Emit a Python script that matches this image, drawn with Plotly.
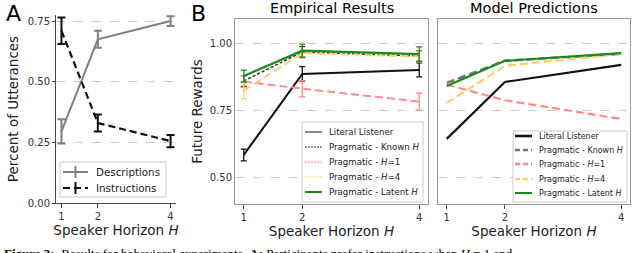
import plotly.graph_objects as go

# ---------------- data ----------------
horizons = [1, 2, 4]

# Panel A
desc_vals = [0.295, 0.675, 0.750]
desc_err = [0.05, 0.035, 0.02]
instr_vals = [0.710, 0.330, 0.255]
instr_err = [0.055, 0.035, 0.025]

# Panel B: empirical
emp_literal = [0.586, 0.888, 0.903]
emp_literal_err = [0.022, 0.027, 0.026]
emp_known = [0.862, 0.970, 0.955]
emp_known_err = [0.02, 0.02, 0.02]
emp_h1 = [0.860, 0.833, 0.785]
emp_h1_err = [0.022, 0.03, 0.032]
emp_h4 = [0.826, 0.966, 0.953]
emp_h4_err = [0.03, 0.02, 0.02]
emp_latent = [0.880, 0.975, 0.962]
emp_latent_err = [0.022, 0.024, 0.027]

# Panel C: model
mod_literal = [0.646, 0.858, 0.922]
mod_known = [0.855, 0.937, 0.963]
mod_h1 = [0.848, 0.790, 0.720]
mod_h4 = [0.780, 0.918, 0.963]
mod_latent = [0.843, 0.937, 0.966]

series_names = ["Literal Listener", "Pragmatic - Known <i>H</i>", "Pragmatic - <i>H</i>=1",
                "Pragmatic - <i>H</i>=4", "Pragmatic - Latent <i>H</i>"]
panel_a_names = ["Descriptions", "Instructions"]

FONT = "DejaVu Sans"
RED = "#ff8c8c"
ORANGE = "#ffcc70"
GREEN = "#1a8a1a"
W, H = 640, 253


def px(x):
    return x / W


def py(y):
    return 1 - y / H


fig = go.Figure()
shapes = []
annotations = []

# ---------- Panel A ----------
a_styles = [("#808080", None, 2), ("#111111", "7px,4px", 2.2)]
for vals, err, (col, dash, lw), nm in zip([desc_vals, instr_vals], [desc_err, instr_err], a_styles, panel_a_names):
    ln = dict(color=col, width=lw)
    if dash:
        ln["dash"] = dash
    fig.add_trace(go.Scatter(x=horizons, y=vals, mode="lines", name=nm, line=ln, showlegend=False,
                             error_y=dict(type="data", array=err, color=col, thickness=2, width=4),
                             xaxis="x", yaxis="y"))

# ---------- Panel B ----------
emp_styles = [("#111111", None, 2), ("#333333", "3px,2px", 1.5), (RED, "8px,4px", 2),
              (ORANGE, "8px,4px", 2), (GREEN, None, 2.2)]
emp_vals = [emp_literal, emp_known, emp_h1, emp_h4, emp_latent]
emp_errs = [emp_literal_err, emp_known_err, emp_h1_err, emp_h4_err, emp_latent_err]
for vals, err, (col, dash, lw), nm in zip(emp_vals, emp_errs, emp_styles, series_names):
    ln = dict(color=col, width=lw)
    if dash:
        ln["dash"] = dash
    fig.add_trace(go.Scatter(x=horizons, y=vals, mode="lines", name=nm, line=ln, showlegend=False,
                             error_y=dict(type="data", array=err, color=col, thickness=1.3, width=3),
                             xaxis="x2", yaxis="y2"))

# ---------- Panel C ----------
mod_styles = [("#111111", None, 2.2), ("#777777", "8px,4px", 2.5), (RED, "8px,4px", 2.2),
              (ORANGE, "8px,4px", 2.2), (GREEN, None, 2.2)]
mod_vals = [mod_literal, mod_known, mod_h1, mod_h4, mod_latent]
for vals, (col, dash, lw), nm in zip(mod_vals, mod_styles, series_names):
    ln = dict(color=col, width=lw)
    if dash:
        ln["dash"] = dash
    fig.add_trace(go.Scatter(x=horizons, y=vals, mode="lines", name=nm, line=ln, showlegend=False,
                             xaxis="x3", yaxis="y3"))


# ---------- manual legends ----------
def legend_box(x0, y0, x1, y1, rows, names, styles, sx0, sx1, tx, fsize, errbar=False):
    shapes.append(dict(type="rect", xref="paper", yref="paper", x0=px(x0), x1=px(x1), y0=py(y1), y1=py(y0),
                       line=dict(color="#cccccc", width=1), fillcolor="white", layer="above"))
    for ry, nm, (col, dash, lw) in zip(rows, names, styles):
        shapes.append(dict(type="line", xref="paper", yref="paper", x0=px(sx0), x1=px(sx1), y0=py(ry), y1=py(ry),
                           line=dict(color=col, width=lw, dash=dash or "solid"), layer="above"))
        if errbar:
            cx = (sx0 + sx1) / 2
            shapes.append(dict(type="line", xref="paper", yref="paper", x0=px(cx), x1=px(cx),
                               y0=py(ry - 6), y1=py(ry + 6), line=dict(color=col, width=2), layer="above"))
        annotations.append(dict(text=nm, x=px(tx), y=py(ry), xref="paper", yref="paper", xanchor="left",
                                yanchor="middle", showarrow=False,
                                font=dict(family=FONT, size=fsize, color="#222")))


legend_box(60, 162, 166, 197, [172, 188], panel_a_names, a_styles, 63, 88, 94, 10.3, errbar=True)
legend_box(302, 122, 423, 202, [132, 147, 162, 177, 192], series_names,
           [("#111111", None, 1), ("#333333", "2px,1px", 1), (RED, "2px,1px", 1),
            (ORANGE, "2px,1px", 1), (GREEN, None, 2)], 305, 322, 327, 8.6)
legend_box(513, 131, 627, 202, [136, 150, 164, 179, 193], series_names,
           [("#111111", None, 2.5), ("#777777", "5px,3px", 2.5), (RED, "5px,3px", 2.5),
            (ORANGE, "5px,3px", 2.5), (GREEN, None, 2)], 515, 532, 537, 8)

tickfont = dict(family=FONT, size=10, color="#333333")
xcommon = dict(range=[0.85, 4.15], tickvals=horizons, ticktext=["1", "2", "4"], showgrid=False,
               zeroline=False, showline=True, ticks="outside", ticklen=4, tickcolor="#444",
               tickfont=tickfont, automargin=False,
               title=dict(text="Speaker Horizon <i>H</i>", font=dict(family=FONT, size=13.5, color="#222"),
                          standoff=0))
gridc = dict(showgrid=True, gridcolor="#cccccc", griddash="dash", gridwidth=1, zeroline=False)


def label(text, x, y, size, color="#000"):
    annotations.append(dict(text=text, x=px(x), y=py(y), xref="paper", yref="paper", showarrow=False,
                            xanchor="center", yanchor="middle",
                            font=dict(family=FONT, size=size, color=color)))


label("A", 13.5, 13, 22)
label("B", 198, 13.5, 22)
label("Empirical Results", (235 + 428) / 2, 8, 14.5)
label("Model Predictions", (438 + 630) / 2, 8, 14.5)
annotations.append(dict(
    text="<b>Figure 3:</b>  Results for behavioral experiments. <b>A:</b> Participants prefer instructions when <i>H</i> = 1 and",
    x=0.003, y=py(244), xref="paper", yref="paper", xanchor="left", yanchor="top",
    showarrow=False, font=dict(family="Liberation Serif", size=13, color="#000")))

fig.update_layout(
    width=W, height=H,
    margin=dict(l=0, r=0, t=0, b=0, autoexpand=False),
    paper_bgcolor="white", plot_bgcolor="white",
    font=dict(family=FONT, color="#222"),
    showlegend=False,
    xaxis=dict(domain=[px(56), px(176)], anchor="y", linecolor="#444", **xcommon),
    yaxis=dict(domain=[py(203), py(15)], anchor="x", range=[0, 0.775],
               tickvals=[0, 0.25, 0.5, 0.75], ticktext=["0.00", "0.25", "0.50", "0.75"],
               showline=True, linecolor="#444", ticks="outside", ticklen=3,
               tickcolor="#444", tickfont=tickfont, automargin=False,
               title=dict(text="Percent of Utterances", font=dict(family=FONT, size=13.5, color="#222"),
                          standoff=6), **gridc),
    xaxis2=dict(domain=[px(235), px(428)], anchor="y2", linecolor="#999", mirror=True, **xcommon),
    yaxis2=dict(domain=[py(204), py(19)], anchor="x2", range=[0.403, 1.093],
                tickvals=[0.5, 0.75, 1.0], ticktext=["0.50", "0.75", "1.00"],
                showline=True, linecolor="#999", mirror=True, ticks="",
                tickfont=tickfont, automargin=False,
                title=dict(text="Future Rewards", font=dict(family=FONT, size=13.5, color="#222"),
                           standoff=4), **gridc),
    xaxis3=dict(domain=[px(438), px(630)], anchor="y3", linecolor="#999", mirror=True, **xcommon),
    yaxis3=dict(domain=[py(204), py(19)], anchor="x3", range=[0.403, 1.093],
                tickvals=[0.5, 0.75, 1.0], showticklabels=False, automargin=False,
                showline=True, linecolor="#999", mirror=True, ticks="", **gridc),
    shapes=shapes,
    annotations=annotations,
)

fig.write_html("out.html", config={"displayModeBar": False},
               post_script="document.body.style.margin='0';document.body.style.overflow='hidden';")
